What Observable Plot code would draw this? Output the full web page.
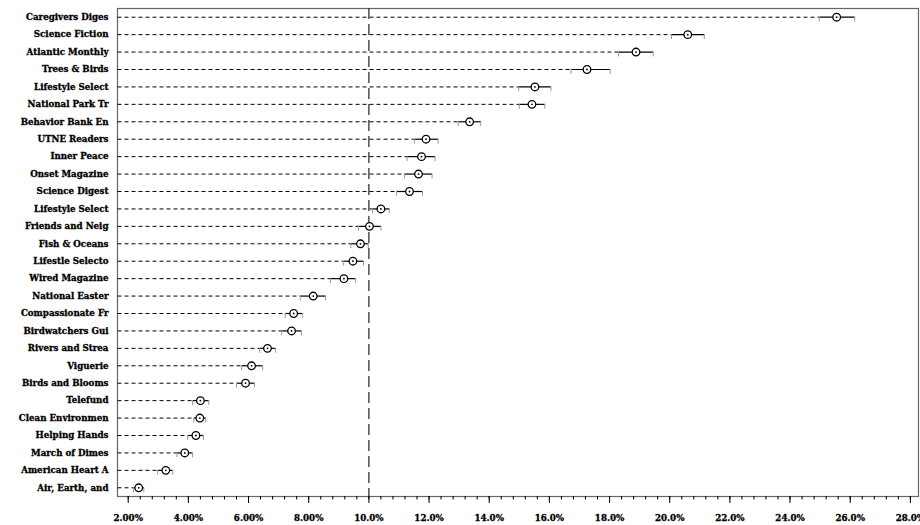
<!DOCTYPE html>
<html>
<head>
<meta charset="utf-8">
<script src="https://cdn.jsdelivr.net/npm/d3@7"></script>
<script src="https://cdn.jsdelivr.net/npm/@observablehq/plot@0.6"></script>
<style>
  html, body { margin: 0; padding: 0; background: #fff; }
  #chart svg { display: block; }
  #chart svg text { stroke: #000; stroke-width: 0.3px; }
</style>
</head>
<body>
<div id="chart"></div>
<script>
const names = ["Caregivers Diges","Science Fiction","Atlantic Monthly","Trees & Birds","Lifestyle Select","National Park Tr","Behavior Bank En","UTNE Readers","Inner Peace","Onset Magazine","Science Digest","Lifestyle Select","Friends and Neig","Fish & Oceans","Lifestle Selecto","Wired Magazine","National Easter","Compassionate Fr","Birdwatchers Gui","Rivers and Strea","Viguerie","Birds and Blooms","Telefund","Clean Environmen","Helping Hands","March of Dimes","American Heart A","Air, Earth, and"];
const est = [25.55,20.6,18.88,17.25,15.52,15.42,13.35,11.9,11.75,11.65,11.35,10.4,10.02,9.72,9.47,9.17,8.15,7.5,7.43,6.63,6.1,5.9,4.4,4.38,4.25,3.88,3.25,2.35];
const lo  = [24.97,20.06,18.3,16.72,14.98,15.0,12.97,11.52,11.27,11.18,10.92,10.12,9.65,9.4,9.16,8.72,7.72,7.22,7.1,6.37,5.77,5.6,4.14,4.18,3.98,3.62,2.98,2.18];
const hi  = [26.15,21.15,19.45,18.02,16.05,15.85,13.72,12.3,12.2,12.1,11.78,10.68,10.4,9.98,9.82,9.56,8.56,7.8,7.76,6.9,6.47,6.2,4.68,4.58,4.5,4.14,3.48,2.52];
const refLine = 10;
const majorTicks = d3.range(2, 28.001, 2);
const minorTicks = d3.range(2, 28.2, 0.4);

const rows = names.map((n, i) => ({i, name: n, est: est[i], lo: lo[i], hi: hi[i]}));
const capShape = { draw(ctx, l) { ctx.moveTo(0, 0); ctx.lineTo(0, -l); } };
const fmt = d3.format(".3r");
const font = "DejaVu Serif";
const xMin = 1.644, xMax = 28.27;

const chart = Plot.plot({
  width: 920,
  height: 525,
  marginLeft: 117,
  marginRight: 2,
  marginTop: 8,
  marginBottom: 29,
  style: {fontFamily: font, fontSize: "8.7px", fontWeight: "bold", color: "#000", background: "#fff"},
  x: {domain: [xMin, xMax], label: null},
  y: {domain: [names.length - 0.5, -0.5], label: null},
  marks: [
    Plot.frame({stroke: "#666", strokeWidth: 1.2}),
    Plot.link(rows, {x1: () => xMin, x2: "lo", y1: "i", y2: "i", stroke: "#000", strokeWidth: 1, strokeDasharray: "4,3"}),
    Plot.ruleX([refLine], {stroke: "#333", strokeWidth: 1.3, strokeDasharray: "11,5"}),
    Plot.link(rows, {x1: "lo", x2: "hi", y1: "i", y2: "i", stroke: "#000", strokeWidth: 1.2}),
    Plot.vector(rows, {x: "lo", y: "i", length: 4, rotate: 180, anchor: "start", shape: capShape, stroke: "#999", strokeWidth: 1}),
    Plot.vector(rows, {x: "hi", y: "i", length: 4, rotate: 180, anchor: "start", shape: capShape, stroke: "#999", strokeWidth: 1}),
    Plot.dot(rows, {x: "est", y: "i", r: 3.8, stroke: "#000", strokeWidth: 1.3, fill: "#fff"}),
    Plot.dot(rows, {x: "est", y: "i", r: 0.9, fill: "#000", stroke: "none"}),
    Plot.axisY({ticks: d3.range(names.length), tickSize: 0, tickPadding: 9, tickFormat: (i) => names[i], label: null, fontSize: 8.7, fontWeight: "bold"}),
    Plot.axisX({ticks: minorTicks, tickSize: 3.5, tickFormat: () => "", label: null, stroke: "#000"}),
    Plot.axisX({ticks: majorTicks, tickSize: 7, tickPadding: 11, tickFormat: (d) => fmt(d) + "%", label: null, fontSize: 8.7, fontWeight: "bold", stroke: "#000"})
  ]
});
document.getElementById("chart").appendChild(chart);
</script>
</body>
</html>
